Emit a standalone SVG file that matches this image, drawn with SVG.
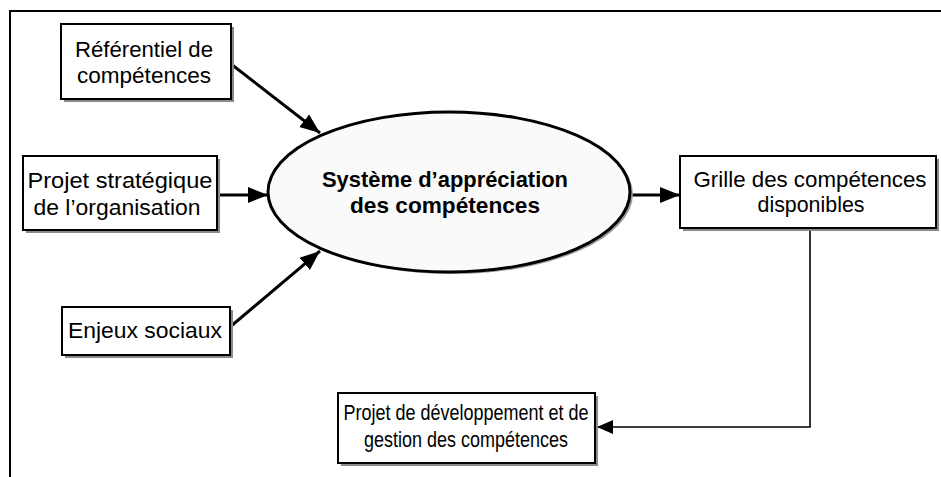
<svg xmlns="http://www.w3.org/2000/svg" width="941" height="477" viewBox="0 0 941 477">
<defs>
<marker id="ah" markerUnits="userSpaceOnUse" markerWidth="22" markerHeight="18" refX="20" refY="9" orient="auto">
<path d="M0,1 L20,9 L0,17 Z" fill="#000"/>
</marker>
<marker id="ahs" markerUnits="userSpaceOnUse" markerWidth="18" markerHeight="16" refX="16" refY="8" orient="auto">
<path d="M0,1 L16,8 L0,15 Z" fill="#000"/>
</marker>
</defs>
<style>
.box{fill:#fff;stroke:#000;stroke-width:2}
.sh{fill:#8a8a8a}
.t{font-family:"Liberation Sans",Arial,sans-serif;font-size:22px;fill:#000;text-anchor:middle}
.tb{font-family:"Liberation Sans",Arial,sans-serif;font-size:22px;font-weight:bold;fill:#000;text-anchor:middle}
.arr{fill:none;stroke:#000;stroke-width:3;marker-end:url(#ah)}
.thin{fill:none;stroke:#000;stroke-width:1.6;marker-end:url(#ahs)}
</style>
<rect width="941" height="477" fill="#fff"/>
<path d="M10,477 L10,11 L941,11" fill="none" stroke="#000" stroke-width="2"/>
<g id="connectors">
<line class="arr" x1="231" y1="64" x2="320" y2="133"/>
<line class="arr" x1="219" y1="195" x2="268" y2="195"/>
<line class="arr" x1="230" y1="327" x2="320" y2="251"/>
<line class="arr" x1="630" y1="195" x2="680" y2="195"/>
<polyline class="thin" points="810,229 810,427 597,427"/>
</g>
<g id="n1">
<rect class="sh" x="64" y="27" width="170" height="75"/>
<rect class="box" x="61" y="24" width="170" height="75"/>
<text class="t" x="144" y="57" textLength="138" lengthAdjust="spacingAndGlyphs">Référentiel de</text>
<text class="t" x="144" y="83" textLength="134" lengthAdjust="spacingAndGlyphs">compétences</text>
</g>
<g id="n2">
<rect class="sh" x="26" y="159" width="194" height="74"/>
<rect class="box" x="23" y="156" width="194" height="74"/>
<text class="t" x="120" y="188" textLength="185" lengthAdjust="spacingAndGlyphs">Projet stratégique</text>
<text class="t" x="117" y="215" textLength="167" lengthAdjust="spacingAndGlyphs">de l’organisation</text>
</g>
<g id="n3">
<rect class="sh" x="65" y="310" width="168" height="48"/>
<rect class="box" x="62" y="307" width="168" height="48"/>
<text class="t" x="145" y="338" textLength="154" lengthAdjust="spacingAndGlyphs">Enjeux sociaux</text>
</g>
<g id="n4">
<ellipse cx="452" cy="194" rx="181" ry="80" fill="#9a9a9a"/>
<ellipse cx="449" cy="192" rx="181" ry="80" fill="#fafafa" stroke="#000" stroke-width="3"/>
<text class="tb" x="445" y="187" textLength="246" lengthAdjust="spacingAndGlyphs">Système d’appréciation</text>
<text class="tb" x="445" y="213" textLength="190" lengthAdjust="spacingAndGlyphs">des compétences</text>
</g>
<g id="n5">
<rect class="sh" x="683" y="159" width="256" height="72"/>
<rect class="box" x="680" y="156" width="256" height="72"/>
<text class="t" x="810" y="187" textLength="233" lengthAdjust="spacingAndGlyphs">Grille des compétences</text>
<text class="t" x="811" y="212" textLength="107" lengthAdjust="spacingAndGlyphs">disponibles</text>
</g>
<g id="n6">
<rect class="sh" x="341" y="396" width="257" height="70"/>
<rect class="box" x="338" y="393" width="257" height="70"/>
<text class="t" x="466" y="420" textLength="245" lengthAdjust="spacingAndGlyphs">Projet de développement et de</text>
<text class="t" x="466" y="447" textLength="204" lengthAdjust="spacingAndGlyphs">gestion des compétences</text>
</g>
</svg>
